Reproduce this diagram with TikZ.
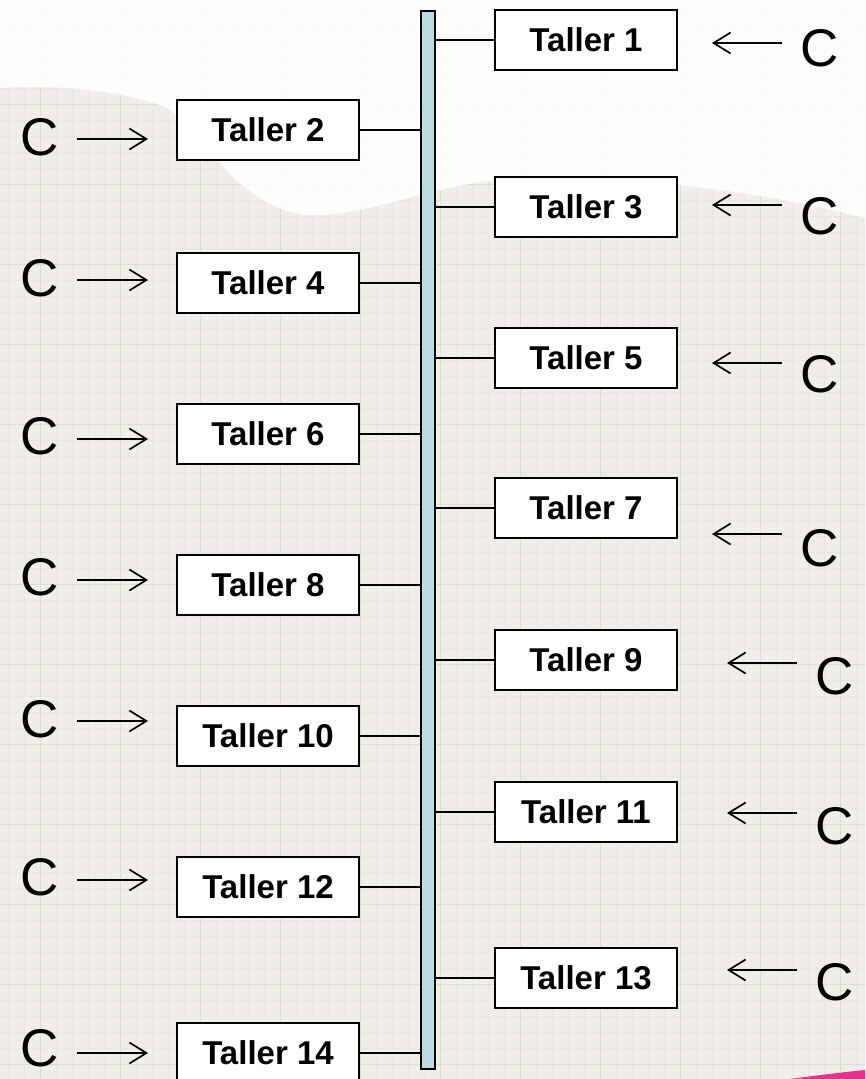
\documentclass[tikz,border=0pt]{standalone}
\usepackage{fontspec}
\setmainfont{Liberation Sans}
\usetikzlibrary{arrows.meta}
\definecolor{paper}{HTML}{F1EDE8}
\definecolor{gridminor}{HTML}{E4EBDE}
\definecolor{gridmajor}{HTML}{D3E4CE}
\definecolor{barfill}{HTML}{B9DEE1}
\definecolor{streak}{HTML}{E8318C}
\tikzset{
  taller/.style={draw, line width=1.8pt, fill=white, minimum width=182pt,
    minimum height=60pt, inner sep=0pt, font=\fontsize{33}{39}\selectfont\bfseries},
  cee/.style={inner sep=0pt, font=\fontsize{53}{60}\selectfont},
  tickline/.style={line width=1.6pt},
  carrow/.style={line width=1.7pt, -{Straight Barb[length=17pt,width=21pt]}},
  minorline/.style={gridminor, line width=0.6pt},
  majorline/.style={gridmajor, line width=1pt}
}
\begin{document}
\begin{tikzpicture}[x=1pt,y=-1pt]
\useasboundingbox (0,0) rectangle (865,1079);
% paper background
\fill[paper] (0,0) rectangle (865,1079);
\foreach \gx in {8,24,...,865} \draw[minorline] (\gx,0) -- (\gx,1079);
\foreach \gy in {8,24,...,1079} \draw[minorline] (0,\gy) -- (865,\gy);
\foreach \gx in {40,120,...,865} \draw[majorline] (\gx,0) -- (\gx,1079);
\foreach \gy in {24,104,...,1079} \draw[majorline] (0,\gy) -- (865,\gy);
% white swoosh at top
\fill[white, opacity=0.9] (0,0) -- (865,0) -- (865,218)
  .. controls (760,190) and (600,170) .. (480,182)
  .. controls (400,195) and (340,225) .. (290,212)
  .. controls (220,190) and (200,120) .. (160,105)
  .. controls (110,88) and (50,85) .. (0,88) -- cycle;
% pink streak
\fill[streak] (790,1079) .. controls (820,1075) and (845,1072) .. (865,1070) -- (865,1079) -- cycle;
% bar
\node[draw, fill=barfill, line width=1.5pt, minimum width=14pt, minimum height=1058pt,
  inner sep=0pt, anchor=north west] (bar) at (420,10) {};
% right side
\foreach \n/\by/\cx/\cy/\ay/\ax in {1/40/820/48/43/712, 3/207/820/216/205/712,
  5/358/820/374/363/712, 7/508/820/548/534/712, 9/660/835/676/663/727,
  11/812/835/826/813/727, 13/978/835/982/970/727}{
  \node[taller] (t\n) at (586,\by) {Taller \n};
  \draw[tickline] (t\n.west) -- (t\n.west -| bar.east);
  \node[cee] (c\n) at (\cx,\cy) {C};
  \coordinate (a\n) at (\ax,\ay);
  \draw[carrow, shorten <=19pt] (c\n.west |- a\n) -- (a\n);
}
% left side
\foreach \n/\by/\cy/\ay in {2/130/137/139, 4/283/278/280, 6/434/436/439,
  8/585/577/580, 10/736/719/721, 12/887/877/880, 14/1053/1048/1053}{
  \node[taller] (t\n) at (268,\by) {Taller \n};
  \draw[tickline] (t\n.east) -- (t\n.east -| bar.west);
  \node[cee] (c\n) at (40,\cy) {C};
  \coordinate (a\n) at (148,\ay);
  \draw[carrow, shorten <=18pt] (c\n.east |- a\n) -- (a\n);
}
\end{tikzpicture}
\end{document}
